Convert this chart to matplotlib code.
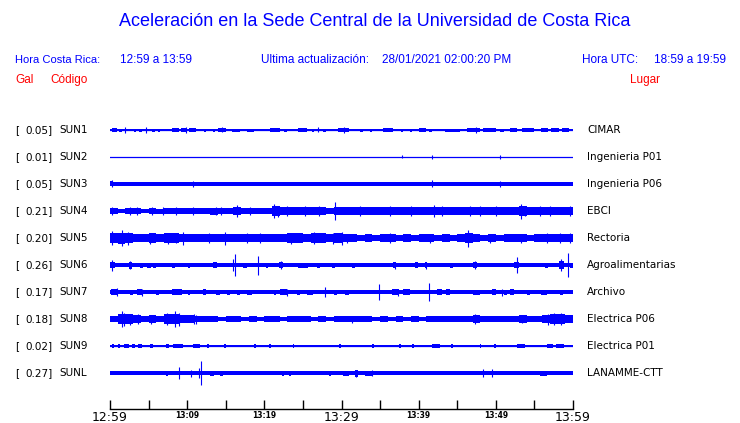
import numpy as np
import matplotlib
matplotlib.use("Agg")
import matplotlib.pyplot as plt

BLUE = "#0000ff"

# ---- data ----
codes = ["SUN1", "SUN2", "SUN3", "SUN4", "SUN5", "SUN6", "SUN7", "SUN8", "SUN9", "SUNL"]
peaks = [0.05, 0.01, 0.05, 0.21, 0.20, 0.26, 0.17, 0.18, 0.02, 0.27]
places = ["CIMAR", "Ingenieria P01", "Ingenieria P06", "EBCI", "Rectoria",
          "Agroalimentarias", "Archivo", "Electrica P06", "Electrica P01", "LANAMME-CTT"]

# envelope half-width (screen px); one value = whole hour, 60 values = one per minute
envs = [
    [0.7],
    [0.5],
    [1.7],
    [2.8, 2.3, 3.0, 2.8, 2.3, 3.0, 2.5, 2.6, 3.2, 3.0, 3.2, 2.6, 2.8, 3.5, 3.2, 2.7,
     3.6, 3.0, 3.2, 2.8, 3.3, 4.6, 4.2, 3.8, 4.2, 3.6, 4.1, 3.8, 3.4, 4.1, 3.6, 3.8,
     4.2, 3.6, 3.9, 3.6, 4.2, 3.8, 3.6, 4.0, 3.6, 3.9, 4.4, 3.9, 3.6, 3.9, 4.1, 4.2,
     3.7, 3.9, 4.2, 3.8, 4.2, 4.6, 4.1, 4.4, 4.1, 4.3, 4.0, 4.2],
    [5.0, 5.5, 4.8, 4.1, 3.8, 4.6, 3.9, 4.6, 4.6, 4.2, 3.6, 3.8, 4.4, 4.2, 3.9, 4.1,
     3.6, 4.2, 4.4, 4.1, 3.9, 3.6, 3.8, 4.6, 4.6, 4.0, 4.8, 4.6, 4.2, 4.8, 4.0, 3.6,
     3.4, 3.6, 3.4, 3.8, 4.1, 3.4, 3.6, 3.4, 3.8, 3.6, 3.4, 3.6, 3.4, 3.8, 4.6, 3.8,
     3.4, 3.8, 3.4, 3.6, 3.8, 3.6, 3.4, 3.8, 4.2, 4.0, 4.4, 4.2],
    [1.6],
    [1.7],
    [3.0, 4.6, 4.6, 4.0, 3.0, 3.6, 2.8, 4.6, 5.0, 3.6, 3.6, 3.2, 2.6, 2.8, 2.3, 2.6,
     2.8, 2.3, 2.6, 2.3, 2.8, 2.6, 2.3, 2.6, 2.8, 2.6, 2.3, 2.6, 2.3, 2.6, 2.8, 3.0,
     2.6, 2.8, 2.3, 2.6, 2.3, 2.8, 2.3, 2.6, 2.3, 2.8, 2.6, 2.6, 2.8, 2.6, 2.8, 3.8,
     3.4, 2.6, 2.8, 2.6, 2.8, 3.6, 3.2, 2.8, 4.0, 4.8, 4.6, 3.6],
    [0.6],
    [1.7],
]
# short bursts: (start minute, end minute, half-height px)
bursts = [
    [(0.2, 0.9, 1.8), (1.2, 1.5, 1.5), (3.1, 3.4, 1.5), (3.8, 4.1, 1.5), (5.5, 5.8, 1.5),
     (6.2, 6.5, 1.5), (8.0, 9.0, 1.8), (9.2, 10.0, 2.0), (10.2, 11.2, 1.8), (12.2, 12.5, 1.5),
     (13.3, 13.6, 1.5), (14.0, 15.0, 2.0), (15.8, 16.8, 1.5), (17.7, 18.6, 1.5),
     (20.7, 22.0, 1.8), (22.5, 23.0, 1.5), (24.4, 25.5, 1.8), (26.2, 26.5, 1.5),
     (27.6, 28.0, 1.5), (29.6, 31.0, 1.8), (32.4, 32.8, 1.5), (33.7, 34.0, 1.5),
     (35.4, 36.7, 1.8), (37.7, 38.0, 1.5), (38.9, 39.2, 1.5), (40.0, 41.0, 1.8),
     (41.4, 41.7, 1.5), (43.4, 45.4, 1.5), (46.2, 48.0, 2.0), (48.4, 50.0, 1.6),
     (50.5, 51.0, 1.5), (51.8, 52.7, 1.8), (53.4, 55.0, 1.8), (55.8, 56.8, 1.8),
     (57.2, 58.2, 1.8), (58.6, 59.5, 1.8)],
    [],
    [(0.0, 0.4, 2.5), (59.5, 60.0, 2.0)],
    [],
    [],
    [(0.0, 0.6, 3.0), (2.4, 2.8, 3.5), (3.9, 4.3, 2.5), (4.8, 5.3, 2.5), (5.6, 6.0, 2.5),
     (8.0, 8.4, 2.5), (10.1, 10.4, 2.5), (13.4, 13.9, 3.0), (17.2, 17.8, 2.5),
     (20.2, 20.5, 2.5), (21.9, 22.4, 3.0), (24.4, 25.7, 2.5), (26.8, 27.2, 2.5),
     (28.8, 29.2, 2.5), (31.3, 31.7, 2.5), (36.7, 37.1, 3.0), (39.5, 39.9, 3.0),
     (40.8, 41.1, 3.0), (44.1, 44.5, 2.5), (47.1, 47.5, 3.0), (52.3, 53.0, 3.0),
     (56.4, 56.8, 2.5), (58.2, 58.8, 4.0), (59.6, 60.0, 2.5)],
    [(0.1, 0.9, 3.0), (2.6, 3.0, 2.5), (3.5, 4.1, 3.0), (6.0, 6.3, 2.5), (8.0, 9.3, 3.2),
     (10.1, 10.4, 2.5), (12.0, 12.4, 3.0), (13.8, 14.3, 2.5), (15.1, 15.5, 2.5),
     (16.5, 16.9, 2.5), (17.8, 18.4, 2.5), (21.2, 21.5, 2.5), (22.0, 22.9, 3.0),
     (24.2, 24.6, 2.5), (25.5, 26.3, 2.5), (29.0, 29.4, 2.5), (30.5, 31.0, 2.5),
     (36.5, 37.5, 3.0), (38.0, 38.9, 3.0), (42.4, 43.0, 3.0), (43.5, 44.1, 3.0),
     (47.1, 48.0, 2.5), (49.5, 50.0, 3.0), (51.0, 51.5, 2.5), (51.9, 52.3, 3.0),
     (54.0, 54.4, 2.5), (55.8, 56.6, 2.5), (58.3, 58.7, 2.5)],
    [],
    [(0.2, 0.5, 1.7), (1.0, 1.3, 1.7), (1.8, 2.4, 1.8), (2.8, 3.2, 1.7), (3.6, 4.1, 1.8),
     (5.2, 5.6, 1.7), (7.3, 7.7, 1.7), (8.2, 9.5, 1.8), (10.8, 11.7, 1.8), (12.6, 12.8, 1.7),
     (14.8, 15.0, 1.7), (18.7, 18.9, 1.6), (20.6, 20.8, 1.6), (23.7, 23.9, 1.6),
     (29.7, 29.9, 1.6), (34.0, 34.2, 1.6), (37.5, 37.7, 1.6), (39.2, 39.4, 1.6),
     (41.7, 42.8, 1.7), (44.2, 44.4, 1.6), (47.9, 48.1, 1.6), (49.8, 50.0, 1.6),
     (52.7, 53.8, 1.7), (56.6, 57.4, 1.8), (57.8, 58.8, 1.8)],
    [(7.2, 7.5, 2.5), (13.0, 13.5, 2.5), (14.3, 14.7, 2.5), (22.3, 22.6, 2.5),
     (23.2, 23.5, 2.5), (28.4, 28.7, 2.5), (30.2, 31.0, 2.5), (31.8, 32.2, 3.5),
     (33.0, 34.0, 2.5), (55.7, 56.6, 2.5)],
]
# single spikes: (minute, half-height px)
spikes = [
    [(2.0, 3.0), (4.7, 2.8), (9.8, 3.0), (14.5, 2.5), (27.0, 2.5), (30.3, 2.8), (47.4, 2.8)],
    [(37.9, 1.5), (41.7, 1.8), (50.6, 1.8)],
    [(0.2, 3.5), (10.8, 3.0), (41.7, 3.5), (50.6, 3.0)],
    [(0.2, 4.0), (2.6, 3.8), (3.5, 3.6), (5.4, 4.0), (6.9, 3.6), (8.6, 4.0), (10.8, 3.8),
     (13.8, 4.3), (14.4, 4.0), (16.4, 6.0), (18.2, 4.0), (21.3, 7.0), (21.8, 5.5),
     (23.0, 5.0), (25.3, 5.0), (27.1, 4.8), (29.1, 9.0), (32.4, 5.0), (36.3, 5.0),
     (39.0, 4.6), (42.0, 6.0), (43.0, 5.0), (46.6, 4.6), (47.9, 5.0), (50.0, 4.6),
     (53.2, 7.5), (53.8, 5.0), (55.7, 5.0), (57.0, 5.0), (59.6, 5.0)],
    [(0.2, 7.0), (1.5, 8.0), (2.3, 6.5), (5.2, 5.5), (7.5, 5.5), (8.6, 5.0), (9.5, 6.5),
     (12.8, 5.0), (14.9, 6.5), (17.8, 5.0), (19.5, 5.0), (23.5, 5.5), (26.5, 6.0),
     (28.9, 5.5), (30.1, 6.5), (30.7, 4.5), (36.3, 5.0), (41.5, 4.5), (46.4, 8.5),
     (49.3, 4.5), (53.2, 4.5), (56.6, 5.0), (58.3, 5.0), (59.6, 5.0)],
    [(0.2, 5.5), (2.6, 4.0), (16.0, 6.0), (16.2, 11.0), (19.2, 9.5), (22.2, 4.0),
     (36.9, 3.5), (40.9, 3.5), (47.3, 4.0), (52.7, 8.0), (58.5, 6.0), (59.4, 12.0)],
    [(0.9, 4.0), (4.1, 3.5), (22.9, 3.5), (27.9, 5.0), (34.8, 8.0), (37.3, 3.5),
     (41.4, 9.0), (50.8, 3.5)],
    [(1.5, 8.0), (1.8, 6.5), (2.6, 5.5), (3.6, 5.0), (5.3, 4.5), (7.4, 6.0), (8.4, 8.0),
     (8.9, 6.5), (10.9, 4.8), (11.2, 4.5), (31.4, 3.5), (47.3, 4.6), (53.4, 4.2),
     (56.8, 5.5), (57.6, 6.2), (58.4, 5.8)],
    [],
    [(9.0, 6.0), (10.5, 3.5), (11.5, 5.0), (11.8, 12.0), (31.9, 3.5), (34.0, 3.0),
     (48.3, 4.0), (49.5, 4.0)],
]
tick_min = [0, 5, 10, 15, 20, 25, 30, 35, 40, 45, 50, 55, 60]
tick_lab = ["12:59", "", "13:09", "", "13:19", "", "13:29", "", "13:39", "", "13:49", "", "13:59"]
big_labels = ["12:59", "13:29", "13:59"]

W, H = 740, 423
fig = plt.figure(figsize=(W / 100, H / 100), dpi=100)

# trace axes: x in minutes, y in screen pixels (top = 115, bottom line = 409)
x0, x1, ytop, ybot = 110, 573, 115, 409
ax = fig.add_axes([x0 / W, 1 - ybot / H, (x1 - x0) / W, (ybot - ytop) / H])
ax.set_xlim(0, 60)
ax.set_ylim(ybot, ytop)
for s in ["top", "left", "right"]:
    ax.spines[s].set_visible(False)
ax.spines["bottom"].set_linewidth(1.0)
ax.set_yticks([])
ax.set_xticks(tick_min)
ax.set_xticklabels(tick_lab)
ax.tick_params(axis="x", direction="in", length=6.5, width=1, pad=1.5)
for lab in ax.get_xticklabels():
    if lab.get_text() in big_labels:
        lab.set_fontsize(9)
    else:
        lab.set_fontsize(5.5)
        lab.set_fontweight("bold")

centers = [130 + 27 * i for i in range(len(codes))]
for i, c in enumerate(centers):
    env = np.array(envs[i] + envs[i][-1:])
    edges = np.linspace(0, 60, len(env))
    ax.plot([0, 60], [c, c], color=BLUE, lw=0.9)
    ax.fill_between(edges, c - env, c + env, step="post", color=BLUE, lw=0)
    for t0, t1, h in bursts[i]:
        ax.fill_between([t0, t1], c - h, c + h, color=BLUE, lw=0)
    if spikes[i]:
        st = [p[0] for p in spikes[i]]
        sa = np.array([p[1] for p in spikes[i]])
        ax.vlines(st, c - sa, c + sa, color=BLUE, lw=0.8)

    yf = 1 - c / H
    fig.text(15 / W, yf, "[", fontsize=7.5, va="center", ha="left")
    fig.text(53 / W, yf, "%.2f]" % peaks[i], fontsize=7.5, va="center", ha="right")
    fig.text(59 / W, yf, codes[i], fontsize=7.5, va="center", ha="left")
    fig.text(587 / W, yf, places[i], fontsize=7.5, va="center", ha="left")

hdr = dict(family="Liberation Sans", color=BLUE, va="center")
fig.text(375 / W, 1 - 22 / H, "Aceleración en la Sede Central de la Universidad de Costa Rica",
         fontsize=13, ha="center", **hdr)
fig.text(15 / W, 1 - 60 / H, "Hora Costa Rica:", fontsize=8, ha="left", **hdr)
fig.text(120 / W, 1 - 60 / H, "12:59 a 13:59", fontsize=8.5, ha="left", **hdr)
fig.text(261 / W, 1 - 60 / H, "Ultima actualización:", fontsize=8.5, ha="left", **hdr)
fig.text(382 / W, 1 - 60 / H, "28/01/2021 02:00:20 PM", fontsize=8.5, ha="left", **hdr)
fig.text(582 / W, 1 - 60 / H, "Hora UTC:", fontsize=8.5, ha="left", **hdr)
fig.text(726 / W, 1 - 60 / H, "18:59 a 19:59", fontsize=8.5, ha="right", **hdr)

red = dict(family="Liberation Sans", color="red", va="center", fontsize=8.5)
fig.text(15 / W, 1 - 80 / H, "Gal", ha="left", **red)
fig.text(50 / W, 1 - 80 / H, "Código", ha="left", **red)
fig.text(630 / W, 1 - 80 / H, "Lugar", ha="left", **red)

fig.savefig("out.png", dpi=100)
